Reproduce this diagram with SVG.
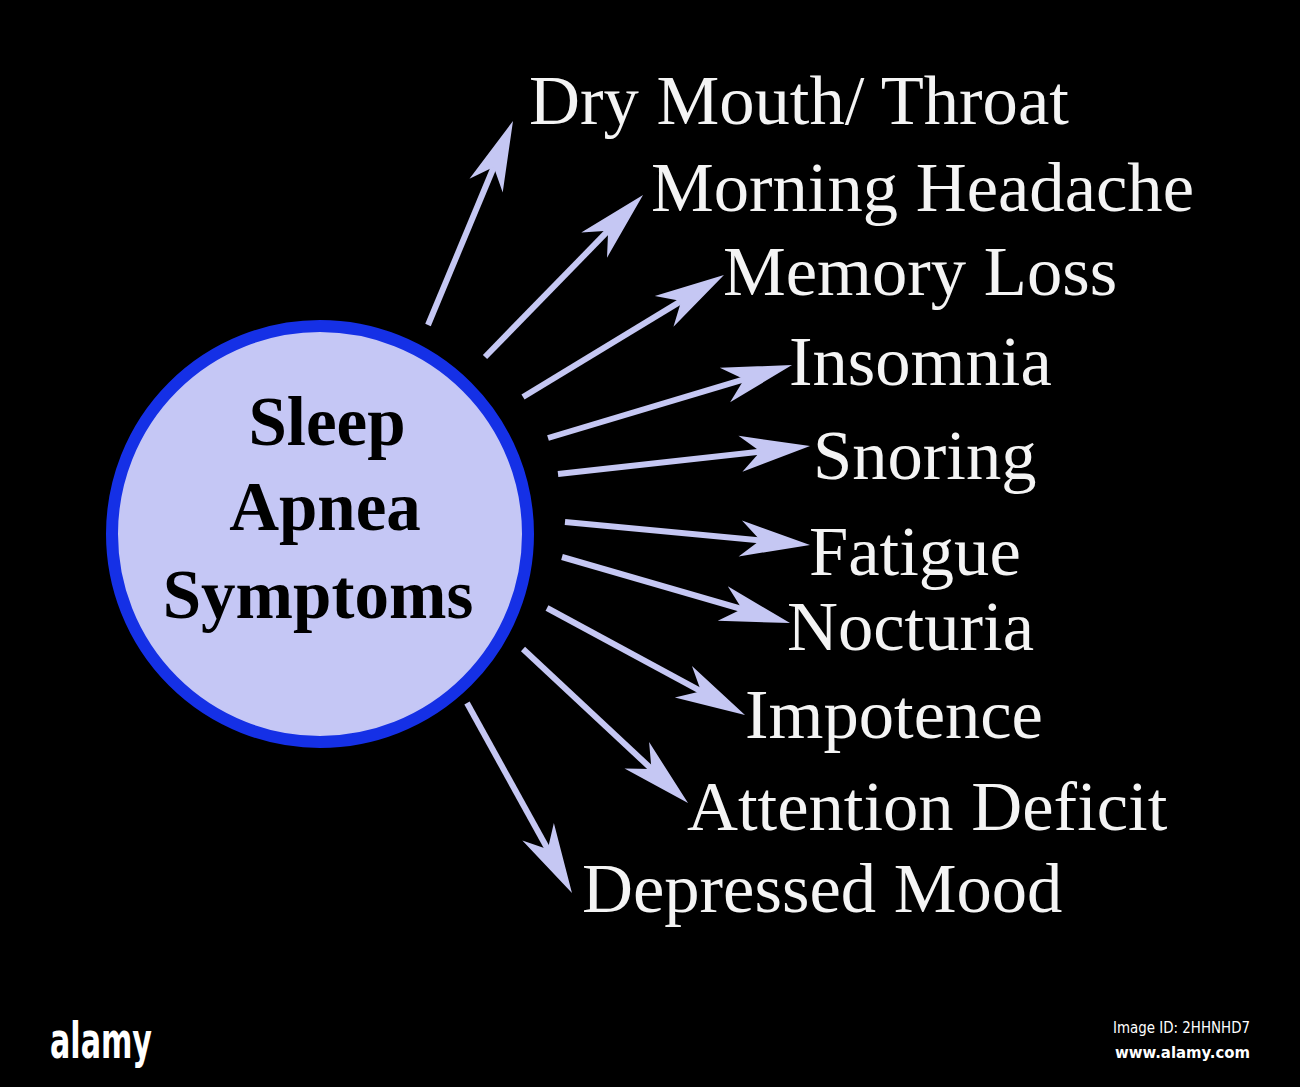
<svg xmlns="http://www.w3.org/2000/svg" width="1300" height="1087" viewBox="0 0 1300 1087">
<style>
.lbl{font-family:"Liberation Serif","Times New Roman",serif;font-size:70.6px;fill:#f4f4f4}
.ctr{font-family:"Liberation Serif","Times New Roman",serif;font-size:69px;font-weight:bold;fill:#000;text-anchor:middle}
.arr{stroke:#c5c7f3;stroke-width:6;fill:none;marker-end:url(#head)}
.wm{font-family:"DejaVu Sans Condensed","DejaVu Sans",sans-serif;fill:#fff}
</style>
<defs>
<marker id="head" viewBox="-22 -20 74 40" markerWidth="74" markerHeight="40" refX="5" refY="0" orient="auto" markerUnits="userSpaceOnUse" overflow="visible">
<path d="M50 0 L-20 -18 L0 0 L-20 18 Z" fill="#c5c7f3"/>
</marker>
</defs>
<rect width="1300" height="1087" fill="#000"/>
<g id="connectors">
<line class="arr" x1="428" y1="325" x2="495.7" y2="162.5"/>
<line class="arr" x1="485" y1="357" x2="611.6" y2="227.2"/>
<line class="arr" x1="523" y1="397" x2="685.5" y2="298.4"/>
<line class="arr" x1="548" y1="438" x2="748.9" y2="377.9"/>
<line class="arr" x1="558" y1="474" x2="765.3" y2="451"/>
<line class="arr" x1="565" y1="522" x2="765.2" y2="540.8"/>
<line class="arr" x1="562" y1="557" x2="746.8" y2="610.5"/>
<line class="arr" x1="547" y1="608" x2="705.4" y2="693.6"/>
<line class="arr" x1="523" y1="649" x2="655.1" y2="772.3"/>
<line class="arr" x1="467" y1="703" x2="550.2" y2="853.6"/>
</g>
<g id="center">
<circle cx="320" cy="534" r="208" fill="#c5c7f5" stroke="#1530e6" stroke-width="12"/>
<text class="ctr" x="327" y="445">Sleep</text>
<text class="ctr" x="325" y="530">Apnea</text>
<text class="ctr" x="318" y="618">Symptoms</text>
</g>
<g id="n-dry"><text class="lbl" x="529" y="124">Dry Mouth/ Throat</text></g>
<g id="n-morning"><text class="lbl" x="651" y="211">Morning Headache</text></g>
<g id="n-memory"><text class="lbl" x="723" y="295">Memory Loss</text></g>
<g id="n-insomnia"><text class="lbl" x="789" y="385">Insomnia</text></g>
<g id="n-snoring"><text class="lbl" x="813" y="479">Snoring</text></g>
<g id="n-fatigue"><text class="lbl" x="809" y="575">Fatigue</text></g>
<g id="n-nocturia"><text class="lbl" x="787" y="650">Nocturia</text></g>
<g id="n-impotence"><text class="lbl" x="745" y="738">Impotence</text></g>
<g id="n-attention"><text class="lbl" x="687" y="830">Attention Deficit</text></g>
<g id="n-depressed"><text class="lbl" x="582" y="912">Depressed Mood</text></g>
<g id="footer">
<text class="wm" x="50" y="1058" font-size="50" font-weight="bold" textLength="102" lengthAdjust="spacingAndGlyphs">alamy</text>
<text class="wm" x="1113" y="1033" font-size="15" textLength="137" lengthAdjust="spacingAndGlyphs">Image ID: 2HHNHD7</text>
<text class="wm" x="1115" y="1058" font-size="16" font-weight="bold" textLength="135" lengthAdjust="spacingAndGlyphs">www.alamy.com</text>
</g>
</svg>
